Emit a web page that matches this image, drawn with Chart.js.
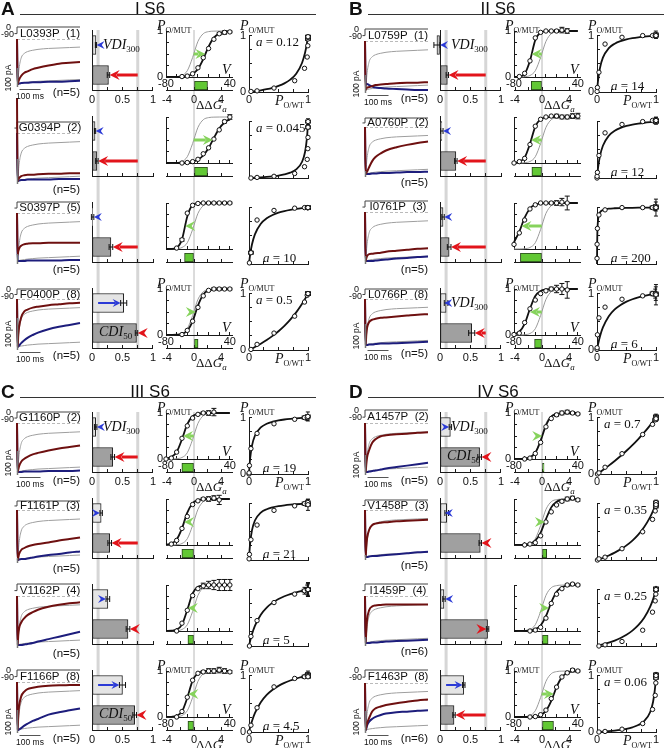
<!DOCTYPE html>
<html>
<head>
<meta charset="utf-8">
<script src="https://cdn.jsdelivr.net/npm/chart.js@4.4.1/dist/chart.umd.min.js"></script>
<style>
  body { margin: 0; background: #fff; }
  #fig { position: relative; width: 664px; height: 748px; overflow: hidden; font-family: 'Liberation Sans', Arial, sans-serif; color: #111; }
  #fig canvas { position: absolute; }
  .t { position: absolute; white-space: nowrap; line-height: 1; z-index: 2; }
  .s { font-family: 'Liberation Serif', 'Times New Roman', serif; }
  .sub { position: relative; top: 3px; }
</style>
</head>
<body>
<div id="fig"></div>
<script>
// ---- data ----
const quadLetters = ['A', 'B', 'C', 'D'];
const quadTitles = ['I S6', 'II S6', 'III S6', 'IV S6'];
const mutants = ['L0393P','G0394P','S0397P','F0400P','L0759P','A0760P','I0761P','L0766P',
                 'G1160P','F1161P','V1162P','F1166P','A1457P','V1458P','I1459P','F1463P'];
const positions = [1,2,5,8, 1,2,3,8, 2,3,4,8, 2,3,4,8];
const nCells = [5,5,5,5, 5,5,5,5, 5,5,5,5, 5,5,6,6];

// inactivation bars (fraction), WT references
const vdi    = [0.065,0.05,0.01,0.52, -0.05,0.03,0.05,0.10, 0.06,0.15,0.26,0.50, 0.17,0.11,0.065,0.39];
const vdiErr = [0.01,0.01,0.02,0.05, 0.05,0.02,0.02,0.03, 0.02,0.02,0.03,0.05, 0.02,0.03,0.02,0.02];
const cdi    = [0.27,0.08,0.31,0.73, 0.12,0.26,0.15,0.52, 0.34,0.29,0.59,0.70, 0.65,0.66,0.78,0.23];
const cdiErr = [0.02,0.02,0.03,0.02, 0.02,0.02,0.03,0.05, 0.03,0.03,0.03,0.03, 0.03,0.02,0.02,0.02];
const wtVdi = 0.1, wtCdi = 0.75;

// ΔΔGa and midpoints of activation
const ddGa  = [2.0,2.0,-1.4,0.6, -1.6,-1.5,-3.2,-1.1, -1.8,-1.8,-0.9,-0.9, 0.3,0.7,0.9,1.7];
const vHalf = [-6,8,-44,-24, -47,-48,-66,-50, -48,-46,-39,-38, -27,-22,-14,-5];
const wtVHalf = -28;
const aValues = ['0.12','0.045','10','0.5','14','12','200','6','19','21','5','4.5','0.7','0.35','0.25','0.06'];

// current traces (normalised, peak = -1), sampled at tGrid (ms)
const tGrid = [0,3,6,10,20,35,50,75,100,150,200,250,300];
const wtCaTrace = [0,-1,-0.85,-0.65,-0.42,-0.32,-0.28,-0.25,-0.23,-0.21,-0.2,-0.19,-0.18];
const wtBaTrace = [0,-1,-1,-0.99,-0.98,-0.97,-0.96,-0.95,-0.94,-0.93,-0.92,-0.91,-0.9];
const caTraces = [
  [0,-1,-0.96,-0.9,-0.82,-0.75,-0.72,-0.67,-0.64,-0.59,-0.55,-0.53,-0.51],
  [0.73,-1,-0.97,-0.94,-0.9,-0.88,-0.87,-0.87,-0.86,-0.85,-0.85,-0.84,-0.84],
  [0,-0.88,-0.8,-0.74,-0.68,-0.65,-0.64,-0.63,-0.63,-0.62,-0.62,-0.62,-0.62],
  [0,-1,-0.75,-0.58,-0.38,-0.26,-0.22,-0.18,-0.16,-0.13,-0.11,-0.09,-0.08],
  [0,-1,-0.97,-0.95,-0.94,-0.92,-0.9,-0.89,-0.88,-0.86,-0.85,-0.85,-0.84],
  [0,-1,-0.98,-0.95,-0.85,-0.72,-0.64,-0.56,-0.5,-0.43,-0.38,-0.34,-0.31],
  [0,-1,-0.95,-0.9,-0.86,-0.85,-0.84,-0.83,-0.81,-0.79,-0.77,-0.75,-0.74],
  [0,-1,-0.78,-0.62,-0.5,-0.45,-0.43,-0.41,-0.4,-0.38,-0.36,-0.34,-0.33],
  [0,-1,-0.95,-0.88,-0.79,-0.73,-0.69,-0.64,-0.61,-0.56,-0.52,-0.49,-0.46],
  [0,-1,-0.95,-0.88,-0.8,-0.76,-0.73,-0.7,-0.68,-0.65,-0.61,-0.58,-0.55],
  [0,-1,-0.8,-0.66,-0.54,-0.45,-0.39,-0.33,-0.28,-0.22,-0.18,-0.15,-0.13],
  [0,-1,-0.7,-0.5,-0.3,-0.2,-0.15,-0.12,-0.1,-0.08,-0.07,-0.065,-0.06],
  [0,-1,-0.85,-0.7,-0.55,-0.4,-0.33,-0.27,-0.25,-0.23,-0.22,-0.2,-0.19],
  [0,-1,-0.8,-0.6,-0.42,-0.32,-0.29,-0.27,-0.26,-0.24,-0.23,-0.22,-0.21],
  [0,-1,-0.75,-0.5,-0.3,-0.22,-0.2,-0.19,-0.18,-0.18,-0.18,-0.18,-0.18],
  [0,-1,-0.94,-0.86,-0.74,-0.6,-0.54,-0.5,-0.47,-0.43,-0.4,-0.37,-0.35]
];
const baTraces = [
  [0,-1,-1,-0.99,-0.98,-0.97,-0.97,-0.96,-0.96,-0.95,-0.95,-0.94,-0.93],
  [0,-1,-1,-0.99,-0.98,-0.98,-0.97,-0.97,-0.97,-0.97,-0.96,-0.96,-0.96],
  [0,-1,-1,-1,-1,-1,-0.99,-0.99,-0.99,-0.99,-0.99,-0.98,-0.98],
  [0,-1,-0.99,-0.97,-0.92,-0.86,-0.81,-0.75,-0.7,-0.63,-0.58,-0.54,-0.5],
  [0,-0.9,-0.88,-0.88,-0.9,-0.93,-0.95,-0.96,-0.97,-0.98,-0.99,-1,-1],
  [0,-1,-1,-1,-1,-0.99,-0.99,-0.98,-0.98,-0.97,-0.96,-0.96,-0.95],
  [0,-1,-1,-1,-1,-1,-0.99,-0.98,-0.97,-0.95,-0.94,-0.92,-0.91],
  [0,-1,-1,-1,-0.99,-0.99,-0.98,-0.97,-0.97,-0.96,-0.95,-0.94,-0.93],
  [0,-1,-1,-1,-1,-0.99,-0.99,-0.99,-0.99,-0.98,-0.98,-0.98,-0.97],
  [0,-1,-1,-0.99,-0.98,-0.98,-0.97,-0.95,-0.93,-0.9,-0.88,-0.85,-0.83],
  [0,-1,-1,-1,-1,-0.99,-0.98,-0.96,-0.93,-0.88,-0.83,-0.78,-0.73],
  [0,-1,-1,-0.99,-0.96,-0.91,-0.87,-0.81,-0.77,-0.68,-0.63,-0.59,-0.55],
  [0,-1,-1,-1,-0.99,-0.98,-0.97,-0.95,-0.93,-0.9,-0.87,-0.84,-0.81],
  [0,-1,-1,-1,-0.99,-0.98,-0.98,-0.97,-0.96,-0.94,-0.92,-0.9,-0.89],
  [0,-1,-1,-1,-1,-0.99,-0.99,-0.98,-0.97,-0.96,-0.95,-0.94,-0.93],
  [0,-1,-0.97,-0.9,-0.82,-0.76,-0.72,-0.68,-0.65,-0.62,-0.61,-0.59,-0.58]
];

// open probability vs voltage (mV)
const vGrid = [-80,-70,-60,-50,-40,-30,-20,-10,0,10,20,30,40];
const wtFit = [0.0003,0.0016,0.0072,0.0328,0.1364,0.4237,0.774,0.941,0.9868,0.9971,0.9994,0.9999,1];
const mutFits = [
  [0.0003,0.0008,0.0025,0.0075,0.0223,0.065,0.174,0.39,0.661,0.855,0.947,0.982,0.994],
  [0.0003,0.0008,0.0021,0.0051,0.0126,0.0307,0.073,0.163,0.326,0.545,0.748,0.881,0.948],
  [0.0003,0.0031,0.0277,0.2086,0.7084,0.9573,0.9952,0.9995,1,1,1,1,1],
  [0.0003,0.0014,0.0058,0.024,0.0923,0.298,0.639,0.881,0.969,0.992,0.998,0.9995,0.9999],
  [0.0014,0.01,0.069,0.354,0.802,0.968,0.9955,0.9994,1,1,1,1,1],
  [0.0048,0.025,0.119,0.417,0.791,0.953,0.9907,0.998,0.9997,1,1,1,1],
  [0.148,0.378,0.68,0.881,0.963,0.989,0.9968,0.999,0.9997,1,1,1,1],
  [0.018,0.071,0.242,0.571,0.847,0.958,0.99,0.9975,0.9994,1,1,1,1],
  [0.0103,0.0414,0.153,0.429,0.758,0.929,0.982,0.9956,0.999,1,1,1,1],
  [0.0077,0.0314,0.119,0.361,0.702,0.908,0.976,0.994,0.9986,0.9997,1,1,1],
  [0.0011,0.0057,0.0293,0.138,0.458,0.818,0.96,0.992,0.9985,0.9997,1,1,1],
  [0.0009,0.0048,0.025,0.119,0.417,0.791,0.953,0.9907,0.998,0.9997,1,1,1],
  [0.0005,0.0021,0.0089,0.036,0.135,0.394,0.731,0.919,0.979,0.995,0.9988,0.9997,1],
  [0.0007,0.0025,0.0086,0.0293,0.0953,0.269,0.562,0.818,0.94,0.982,0.9948,0.9985,0.9996],
  [0.0003,0.0009,0.0032,0.011,0.0373,0.119,0.321,0.622,0.852,0.953,0.986,0.9959,0.9988],
  [0.0001,0.0003,0.001,0.0036,0.0124,0.042,0.133,0.349,0.651,0.867,0.958,0.988,0.9964]
];
const poData = [
  [null,null,null,0.01,0.02,0.07,0.2,0.42,0.62,0.82,0.94,0.97,0.98],
  [null,null,null,0,0.01,0.03,0.08,0.2,0.33,0.52,0.72,0.9,1],
  [null,null,0.02,0.2,0.78,0.95,0.99,1,1,1,1,1,1],
  [null,null,null,0.01,0.1,0.3,0.6,0.85,0.97,1,1,1,1],
  [null,0.01,0.08,0.35,0.85,0.97,1,1,1,1.02,1,null,null],
  [0,0.03,0.1,0.4,0.8,0.95,1,1.02,1.02,1,1,1.02,1.02],
  [0.1,0.35,0.63,0.87,0.96,1,1,1,1,1.02,1,null,null],
  [0.01,0.04,0.27,0.57,0.76,0.9,0.96,1,1,1,0.98,null,null],
  [0,0.02,0.15,0.45,0.72,0.89,0.97,1,1,1.02,null,null,null],
  [null,0.02,0.1,0.36,0.62,0.88,0.96,1,1,1.02,0.98,null,null],
  [null,null,0,0.17,0.45,0.77,0.92,0.98,1,1,1,1,1],
  [null,null,0,0.12,0.43,0.8,0.95,0.98,1,1,1.02,1,0.98],
  [null,null,0,0.02,0.12,0.36,0.7,0.88,0.96,1,1.02,1,0.98],
  [null,null,0,0.02,0.05,0.2,0.5,0.72,0.87,0.95,1,1.02,0.98],
  [null,null,null,0,0.02,0.08,0.28,0.6,0.8,0.92,1,1.02,1],
  [null,null,null,0,0.01,0.05,0.15,0.4,0.65,0.87,0.96,1.02,1]
];
const poErr = [
  [0,0,0,0,0,0,0,0,0,0,0.02,0.04,0.02],
  [0,0,0,0,0,0,0,0,0,0,0,0.03,0.05],
  [0,0,0,0.03,0,0,0,0,0.02,0.02,0.02,0.02,0.02],
  [0,0,0,0,0,0,0,0,0,0.03,0.03,0.02,0.02],
  [0,0,0,0,0,0,0,0,0.03,0.06,0.05,0,0],
  [0,0,0,0,0,0,0,0,0.04,0.04,0.04,0.05,0.06],
  [0,0,0,0,0,0,0,0.03,0.05,0.08,0.15,0,0],
  [0,0,0,0,0,0,0,0.04,0.08,0.12,0.18,0,0],
  [0,0,0,0,0,0,0,0.03,0.05,0.08,0,0,0],
  [0,0,0,0,0,0,0,0.03,0.05,0.05,0.1,0,0],
  [0,0,0,0,0,0,0,0.06,0.08,0.1,0.12,0.12,0.12],
  [0,0,0,0,0,0,0,0.03,0.05,0.05,0.06,0.05,0.03],
  [0,0,0,0,0,0,0,0,0.03,0.04,0.04,0.03,0.02],
  [0,0,0,0,0,0,0,0,0,0.03,0.04,0.04,0.03],
  [0,0,0,0,0,0,0,0,0,0,0.02,0.02,0.02],
  [0,0,0,0,0,0,0,0,0,0,0.02,0.03,0.02]
];

// PO/MUT vs PO/WT fit curves, sampled at pGrid
const pGrid = [0,0.002,0.005,0.01,0.02,0.05,0.1,0.2,0.3,0.4,0.5,0.6,0.7,0.8,0.9,0.95,0.98,0.99,1];
const aCurves = [
  [0,0.0002,0.0006,0.0012,0.0024,0.0063,0.0132,0.0291,0.0489,0.0741,0.1071,0.1525,0.2188,0.3243,0.5192,0.6951,0.8547,0.9224,1],
  [0,0.0001,0.0002,0.0005,0.0009,0.0024,0.005,0.0111,0.0189,0.0291,0.0431,0.0632,0.095,0.1525,0.2883,0.4609,0.688,0.8167,1],
  [0,0.0196,0.0478,0.0917,0.1695,0.3448,0.5263,0.7143,0.8108,0.8696,0.9091,0.9375,0.9589,0.9756,0.989,0.9948,0.998,0.999,1],
  [0,0.001,0.0025,0.005,0.0101,0.0256,0.0526,0.1111,0.1765,0.25,0.3333,0.4286,0.5385,0.6667,0.8182,0.9048,0.9608,0.9802,1],
  [0,0.0273,0.0657,0.1239,0.2222,0.4242,0.6087,0.7778,0.8571,0.9032,0.9333,0.9545,0.9703,0.9825,0.9921,0.9962,0.9985,0.9993,1],
  [0,0.0235,0.0569,0.1081,0.1967,0.3871,0.5714,0.75,0.8372,0.8889,0.9231,0.9474,0.9655,0.9796,0.9908,0.9956,0.9983,0.9992,1],
  [0,0.2861,0.5013,0.6689,0.8032,0.9132,0.9569,0.9804,0.9885,0.9926,0.995,0.9967,0.9979,0.9988,0.9994,0.9997,0.9999,0.9999,1],
  [0,0.0119,0.0293,0.0571,0.1091,0.24,0.4,0.6,0.72,0.8,0.8571,0.9,0.9333,0.96,0.9818,0.9913,0.9966,0.9983,1],
  [0,0.0367,0.0872,0.161,0.2794,0.5,0.6786,0.8261,0.8906,0.9268,0.95,0.9661,0.9779,0.987,0.9942,0.9972,0.9989,0.9995,1],
  [0,0.0404,0.0955,0.175,0.3,0.525,0.7,0.84,0.9,0.9333,0.9545,0.9692,0.98,0.9882,0.9947,0.9975,0.999,0.9995,1],
  [0,0.0099,0.0245,0.0481,0.0926,0.2083,0.3571,0.5556,0.6818,0.7692,0.8333,0.8824,0.9211,0.9524,0.9783,0.9896,0.9959,0.998,1],
  [0,0.0089,0.0221,0.0435,0.0841,0.1915,0.3333,0.5294,0.6585,0.75,0.8182,0.871,0.913,0.9474,0.9759,0.9884,0.9955,0.9978,1],
  [0,0.0014,0.0035,0.007,0.0141,0.0355,0.0722,0.1489,0.2308,0.3182,0.4118,0.5122,0.6203,0.7368,0.863,0.9301,0.9717,0.9858,1],
  [0,0.0007,0.0018,0.0035,0.0071,0.0181,0.0374,0.0805,0.1304,0.1892,0.2593,0.3443,0.4495,0.5833,0.759,0.8693,0.9449,0.9719,1],
  [0,0.0005,0.0013,0.0025,0.0051,0.013,0.027,0.0588,0.0968,0.1429,0.2,0.2727,0.3684,0.5,0.6923,0.8261,0.9245,0.9612,1],
  [0,0.0001,0.0003,0.0006,0.0012,0.0031,0.0066,0.0148,0.0251,0.0385,0.0566,0.0826,0.1228,0.1935,0.3506,0.5327,0.7462,0.8559,1]
];

// ---- layout (pixels) ----
const quadX = [0, 348, 0, 348];
const quadY = [0, 0, 383, 383];
const rowBase = [[77,163,249,335],[77,163,249,335],[459,545,631,717],[459,545,631,717]];
// trace panel offsets from the row baseline
const traceStep = [-50,-41,-47,-46, -48,-45,-48,-46, -47,-44,-47,-47, -49,-45,-47,-47];
const traceZero = [-38,-30,-36,-36, -36,-36,-37,-36, -36,-35,-35,-35, -36,-35,-35,-34];
const tracePeak = [7,18,12,12, 13,11,12,10, 13,15,14,13, 13,12,12,13];
const pABar = [19,25,10,32, 18,6,8,24, 24,5,8,23, 20,5,9,22];
const vdiLabelRows = [0, 4, 7, 8, 12];
const cdiLabelRows = [3, 11, 12];
const AX_H = 18, AX_W = 22;   // room reserved for tick labels

const fig = document.getElementById('fig');
Chart.defaults.font.family = "'Liberation Sans', Arial, sans-serif";

// area = wanted plot area in page pixels, ax = room taken by left / bottom axes
function addChart(x, y, w, h, area, ax, config) {
  const c = document.createElement('canvas');
  c.width = w; c.height = h;
  c.style.left = x + 'px'; c.style.top = y + 'px';
  c.style.width = w + 'px'; c.style.height = h + 'px';
  fig.appendChild(c);
  const o = config.options = config.options || {};
  o.responsive = false; o.animation = false; o.devicePixelRatio = 1; o.events = [];
  o.layout = { padding: { left: area.l - x - ax.l, top: area.t - y, right: x + w - area.r, bottom: y + h - area.b - ax.b } };
  o.plugins = Object.assign({ legend: { display: false }, tooltip: { enabled: false } }, o.plugins || {});
  return new Chart(c, config);
}

// axis with tick marks pointing into the plot; gap = distance from axis line to label
function linAxis(min, max, ticks, labels, dir, gap) {
  return {
    type: 'linear', min, max,
    afterBuildTicks: s => { s.ticks = ticks.map(v => ({ value: v })); },
    afterFit: dir === 'x' ? s => { s.height = AX_H; } : s => { s.width = AX_W; },
    border: { display: true, color: '#1a1a1a', width: 1 },
    grid: { display: true, drawOnChartArea: false, drawTicks: true, tickLength: -3, color: '#1a1a1a', lineWidth: 1 },
    ticks: { autoSkip: false, maxRotation: 0, padding: gap + 3, color: '#111', font: { size: 11 },
             callback: v => labels.includes(v) ? String(v) : '' }
  };
}
const hidden = (min, max) => ({ type: 'linear', min, max, display: false });
const NOAX = { l: 0, b: 0 };

function curve(xs, ys, color, width, order) {
  return { data: xs.map((x, k) => ({ x, y: ys[k] })), showLine: true, borderColor: color, borderWidth: width,
           pointRadius: 0, cubicInterpolationMode: 'monotone', order, clip: false };
}

function arrow(ctx, x0, x1, y, color, w) {
  const dir = Math.sign(x1 - x0) || -1;
  const hl = w * 2 + 4, hw = w + 2;
  ctx.save();
  ctx.strokeStyle = color; ctx.fillStyle = color; ctx.lineWidth = w;
  if (Math.abs(x1 - x0) > hl) {
    ctx.beginPath(); ctx.moveTo(x0, y); ctx.lineTo(x1 - dir * hl * 0.7, y); ctx.stroke();
  }
  ctx.beginPath();
  ctx.moveTo(x1, y); ctx.lineTo(x1 - dir * hl, y - hw); ctx.lineTo(x1 - dir * hl * 0.65, y);
  ctx.lineTo(x1 - dir * hl, y + hw); ctx.closePath(); ctx.fill();
  ctx.restore();
}

function errLine(ctx, x0, y0, x1, y1, cap) {
  ctx.beginPath();
  ctx.moveTo(x0, y0); ctx.lineTo(x1, y1);
  if (x0 === x1) {
    ctx.moveTo(x0 - cap, y0); ctx.lineTo(x0 + cap, y0); ctx.moveTo(x1 - cap, y1); ctx.lineTo(x1 + cap, y1);
  } else {
    ctx.moveTo(x0, y0 - cap); ctx.lineTo(x0, y0 + cap); ctx.moveTo(x1, y1 - cap); ctx.lineTo(x1, y1 + cap);
  }
  ctx.stroke();
}

function txt(html, x, y, align, style, rot) {
  const d = document.createElement('div');
  d.className = 't';
  d.innerHTML = html;
  d.style.left = x + 'px'; d.style.top = y + 'px';
  const tx = align === 'c' ? '-50%' : align === 'r' ? '-100%' : '0';
  d.style.transform = 'translate(' + tx + ',-50%)' + (rot ? ' rotate(-90deg)' : '');
  if (style) d.style.cssText += style;
  fig.appendChild(d);
}
const pLabel = sub => '<span class="s" style="font-size:14px"><i>P</i><span class="sub" style="font-size:8px">' + sub + '</span></span>';

for (let q = 0; q < 4; q++) {
  const ox = quadX[q], oy = quadY[q], base = rowBase[q];

  // header
  txt(quadLetters[q], ox + 1, oy + 8, 'l', 'font-weight:bold;font-size:19px');
  txt(quadTitles[q], ox + 150, oy + 8, 'c', 'font-size:17px');
  const ln = document.createElement('div');
  ln.style.cssText = 'position:absolute;left:' + (ox + 20) + 'px;top:' + (oy + 14) + 'px;width:296px;border-top:1px solid #333';
  fig.appendChild(ln);

  // WT reference lines running through the columns
  const gTop = base[0] - 47, gBot = base[3] + 13;
  addChart(ox + 80, gTop, 82, gBot - gTop, { l: ox + 92, t: gTop, r: ox + 153, b: gBot }, NOAX, {
    type: 'scatter',
    data: { datasets: [
      { data: [{ x: wtVdi, y: 0 }, { x: wtVdi, y: 1 }], showLine: true, borderColor: '#d6d6d6', borderWidth: 3, pointRadius: 0 },
      { data: [{ x: wtCdi, y: 0 }, { x: wtCdi, y: 1 }], showLine: true, borderColor: '#d6d6d6', borderWidth: 3, pointRadius: 0 }
    ] },
    options: { scales: { x: hidden(0, 1), y: hidden(0, 1) } }
  });
  addChart(ox + 140, gTop, 100, gBot - gTop, { l: ox + 166, t: gTop, r: ox + 232, b: gBot }, NOAX, {
    type: 'scatter',
    data: { datasets: [
      { data: [{ x: 0, y: 0 }, { x: 0, y: 1 }], showLine: true, borderColor: '#b8b8b8', borderWidth: 1, pointRadius: 0 }
    ] },
    options: { scales: { x: hidden(-4.15, 5.63), y: hidden(0, 1) } }
  });

  for (let r = 0; r < 4; r++) {
    const i = q * 4 + r, Y0 = base[r], edge = (r === 0 || r === 3);

    // ---- current traces ----
    const zeroY = Y0 + traceZero[i], peakY = Y0 + tracePeak[i], stepY = Y0 + traceStep[i];
    const stepV = (zeroY - stepY) / (peakY - zeroY), lowV = stepV * 0.45;
    addChart(ox, Y0 - 70, 88, 102, { l: ox + 17, t: zeroY, r: ox + 80, b: peakY }, NOAX, {
      type: 'scatter',
      data: { datasets: [
        curve(tGrid, caTraces[i], '#6e1010', 2, 0),
        curve(tGrid, baTraces[i], '#1d1d7c', 2, 1),
        curve(tGrid, wtCaTrace, '#9e9e9e', 1, 2),
        curve(tGrid, wtBaTrace, '#9e9e9e', 1, 3),
        { data: [{ x: 0, y: 0 }, { x: 300, y: 0 }], showLine: true, borderColor: '#777', borderWidth: 1,
          borderDash: [3, 2], pointRadius: 0, order: 4 },
        { data: [{ x: -12, y: lowV }, { x: 0, y: lowV }, { x: 0, y: stepV }, { x: 300, y: stepV }], showLine: true,
          borderColor: '#444', borderWidth: 1, pointRadius: 0, order: 5, clip: false }
      ] },
      options: { scales: { x: hidden(0, 300), y: hidden(-1, 0) } },
      plugins: [{ id: 'scalebars', afterDatasetsDraw(c) {
        const ctx = c.ctx, xs = c.scales.x, a = c.chartArea;
        ctx.save(); ctx.strokeStyle = '#777'; ctx.lineWidth = 1.5;
        const x0 = xs.getPixelForValue(0) + 0.5;
        ctx.beginPath(); ctx.moveTo(x0, a.bottom + 3); ctx.lineTo(x0, a.bottom + 3 - pABar[i]); ctx.stroke();
        if (edge) {
          ctx.strokeStyle = '#555'; ctx.lineWidth = 1;
          ctx.beginPath(); ctx.moveTo(xs.getPixelForValue(12), a.bottom + 5.5); ctx.lineTo(xs.getPixelForValue(112), a.bottom + 5.5); ctx.stroke();
        }
        ctx.restore();
      } }]
    });
    txt(mutants[i] + '&nbsp;&nbsp;(' + positions[i] + ')', ox + 50, (stepY + zeroY) / 2 + 0.5, 'c', 'font-size:11.5px');
    txt('(n=' + nCells[i] + ')', ox + 80, peakY + 9, 'r', 'font-size:11.5px');
    if (edge) {
      txt('0', ox + 11, stepY, 'r', 'font-size:9px');
      txt('-90', ox + 14, stepY + 7, 'r', 'font-size:9px');
      txt('100 pA', ox + 8, peakY + 3 - pABar[i] / 2, 'c', 'font-size:8.5px', true);
      txt('100 ms', ox + 30, peakY + 12, 'c', 'font-size:8.5px');
    }

    // ---- VDI / CDI bars ----
    addChart(ox + 80, Y0 - 52, 82, 84, { l: ox + 92, t: Y0 - 47, r: ox + 153, b: Y0 + 13 }, { l: 0, b: AX_H }, {
      type: 'bar',
      data: { labels: ['VDI', 'CDI'], datasets: [{
        data: [vdi[i], cdi[i]], backgroundColor: ['#e4e4e4', '#a0a0a0'], borderColor: '#222', borderWidth: 1,
        borderSkipped: false, barThickness: 19, clip: false
      }] },
      options: { indexAxis: 'y', scales: {
        x: linAxis(0, 1, [0, 0.25, 0.5, 0.75, 1], edge ? [0, 0.5, 1] : [], 'x', 3),
        y: { type: 'category', afterFit: s => { s.width = 0; }, border: { display: true, color: '#1a1a1a' },
             grid: { display: false }, ticks: { display: false } }
      } },
      plugins: [{ id: 'arrows', afterDatasetsDraw(c) {
        const ctx = c.ctx, xs = c.scales.x, ys = c.scales.y;
        const yv = ys.getPixelForValue(0), yc = ys.getPixelForValue(1);
        ctx.save(); ctx.strokeStyle = '#111'; ctx.lineWidth = 1;
        errLine(ctx, xs.getPixelForValue(vdi[i] - vdiErr[i]), yv, xs.getPixelForValue(vdi[i] + vdiErr[i]), yv, 3);
        errLine(ctx, xs.getPixelForValue(cdi[i] - cdiErr[i]), yc, xs.getPixelForValue(cdi[i] + cdiErr[i]), yc, 3);
        ctx.restore();
        const vEnd = vdi[i] + (wtVdi > vdi[i] ? vdiErr[i] : -vdiErr[i]);
        const cEnd = cdi[i] + (wtCdi > cdi[i] ? cdiErr[i] : -cdiErr[i]);
        arrow(ctx, xs.getPixelForValue(wtVdi), xs.getPixelForValue(vEnd), yv, '#2b3ad6', 2);
        arrow(ctx, xs.getPixelForValue(wtCdi), xs.getPixelForValue(cEnd), yc, '#e2141b', 3);
      } }]
    });
    if (vdiLabelRows.includes(i)) {
      txt('<i>VDI</i><span class="sub" style="font-size:9px">300</span>', ox + 103, Y0 - 32, 'l', 'font-size:14px;font-family:Liberation Serif,serif');
    }
    if (cdiLabelRows.includes(i)) {
      txt('<i>CDI</i><span class="sub" style="font-size:9px">50</span>', ox + 99, Y0 - 3, 'l', 'font-size:14px;font-family:Liberation Serif,serif');
    }

    // ---- activation curves ----
    const circ = [];
    vGrid.forEach((v, k) => { if (poData[i][k] !== null) circ.push({ x: v, y: poData[i][k], e: poErr[i][k], k }); });
    addChart(ox + 140, Y0 - 60, 100, 80, { l: ox + 166, t: Y0 - 46, r: ox + 232, b: Y0 }, { l: AX_W, b: AX_H }, {
      type: 'scatter',
      data: { datasets: [
        { data: circ.map(p => ({ x: p.x, y: p.y })), pointRadius: 2.2, pointBackgroundColor: '#fff',
          pointBorderColor: '#111', pointBorderWidth: 1, order: 0, clip: false },
        curve(vGrid, mutFits[i], '#111', 1.8, 1),
        curve(vGrid, wtFit, '#9a9a9a', 1, 2)
      ] },
      options: { scales: {
        x: linAxis(-80, 44, [-80, -60, -40, -20, 0, 20, 40], edge ? [-80, 40] : [], 'x', 0),
        y: linAxis(0, 1, [0, 0.25, 0.5, 0.75, 1], edge ? [0, 1] : [], 'y', 3)
      } },
      plugins: [{ id: 'sig', beforeDatasetsDraw(c) {
        const ctx = c.ctx, xs = c.scales.x, ys = c.scales.y;
        ctx.save(); ctx.strokeStyle = '#111'; ctx.lineWidth = 1;
        circ.forEach(p => { if (p.e > 0) { const xp = xs.getPixelForValue(p.x);
          errLine(ctx, xp, ys.getPixelForValue(p.y - p.e), xp, ys.getPixelForValue(p.y + p.e), 2.5); } });
        ctx.restore();
      }, afterDatasetsDraw(c) {
        const xs = c.scales.x, ys = c.scales.y;
        arrow(c.ctx, xs.getPixelForValue(wtVHalf), xs.getPixelForValue(vHalf[i]), ys.getPixelForValue(0.5), '#86d35c', 3);
      } }]
    });
    // ΔΔGa strip
    addChart(ox + 140, Y0 + 1, 100, 30, { l: ox + 166, t: Y0 + 4, r: ox + 232, b: Y0 + 13 }, { l: 0, b: AX_H }, {
      type: 'bar',
      data: { labels: ['g'], datasets: [{ data: [[0, ddGa[i]]], backgroundColor: '#62c834', borderColor: '#26401a',
        borderWidth: 1, borderSkipped: false, barPercentage: 1, categoryPercentage: 1 }] },
      options: { indexAxis: 'y', scales: {
        x: linAxis(-4.15, 5.63, [-4, -2, 0, 2, 4], edge ? [-4, 0, 4] : [], 'x', 3),
        y: { type: 'category', display: false }
      } }
    });
    if (edge) {
      txt(pLabel('O/MUT'), ox + 157, Y0 - 52, 'l');
      txt('<i>V</i>', ox + 222, Y0 - 7, 'l', 'font-size:14px;font-family:Liberation Serif,serif');
      txt('ΔΔ<i>G</i><span class="sub" style="font-size:9px"><i>a</i></span>', ox + 196, Y0 + 26.5, 'l',
          'font-size:13px;font-family:Liberation Serif,serif');
    }

    // ---- PO/MUT vs PO/WT ----
    const apts = circ.map(p => ({ x: wtFit[p.k], y: p.y, e: p.e }));
    addChart(ox + 225, Y0 - 54, 91, 90, { l: ox + 249, t: Y0 - 45, r: ox + 308, b: Y0 + 15 }, { l: AX_W, b: AX_H }, {
      type: 'scatter',
      data: { datasets: [
        { data: apts.map(p => ({ x: p.x, y: p.y })), pointRadius: 2.2, pointBackgroundColor: '#fff',
          pointBorderColor: '#111', pointBorderWidth: 1, order: 0, clip: false },
        curve(pGrid, aCurves[i], '#111', 1.8, 1)
      ] },
      options: { scales: {
        x: linAxis(0, 1, [0, 0.25, 0.5, 0.75, 1], edge ? [0, 1] : [], 'x', 1),
        y: linAxis(0, 1, [0, 0.25, 0.5, 0.75, 1], edge ? [0, 1] : [], 'y', 3)
      } },
      plugins: [{ id: 'aerr', beforeDatasetsDraw(c) {
        const ctx = c.ctx, xs = c.scales.x, ys = c.scales.y;
        ctx.save(); ctx.strokeStyle = '#111'; ctx.lineWidth = 1;
        apts.forEach(p => { if (p.e > 0) {
          const xp = xs.getPixelForValue(p.x), yp = ys.getPixelForValue(p.y);
          errLine(ctx, xp, ys.getPixelForValue(p.y - p.e), xp, ys.getPixelForValue(p.y + p.e), 2);
          errLine(ctx, xs.getPixelForValue(p.x - 0.04), yp, xs.getPixelForValue(p.x + 0.04), yp, 2);
        } });
        ctx.restore();
      } }]
    });
    const aHtml = '<i>a</i> = ' + aValues[i];
    if (parseFloat(aValues[i]) < 1) txt(aHtml, ox + 256, Y0 - 36, 'l', 'font-size:13px;font-family:Liberation Serif,serif');
    else txt(aHtml, ox + 263, Y0 + 7.5, 'l', 'font-size:13px;font-family:Liberation Serif,serif');
    if (edge) {
      txt(pLabel('O/MUT'), ox + 240, Y0 - 52, 'l');
      txt(pLabel('O/WT'), ox + 275, Y0 + 23, 'l');
    }
  }
}
</script>
</body>
</html>
